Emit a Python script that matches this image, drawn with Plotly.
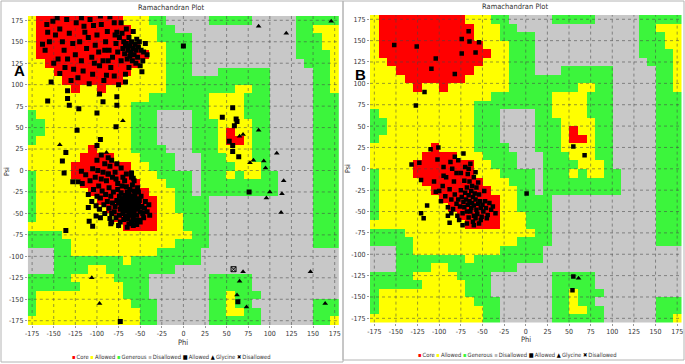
import plotly.graph_objects as go

W, H = 685, 364

# ---------------- data ----------------
phi_centers = list(range(-175, 180, 10))
psi_centers = list(range(175, -180, -10))
axis_ticks = list(range(-175, 180, 25))

# region map (rows psi 180 -> -180, cols phi -180 -> 180); R core, Y allowed, G generous, D disallowed
region_rows = [
    "YRRRRRRRRRRYYYGGDDDDDGGGGGDDDDDGGGGG",
    "YRRRRRRRRRRRYYYGGDDDDDDDDDDDDDDGGYYY",
    "YRRRRRRRRRRRYYYGGGGDDDDDDDDDDDDGGGYY",
    "YRRRRRRRRRRRRYYYGGGDDDDDDDDDDDDGGGYY",
    "YRRRRRRRRRRRRRYYGGGDDDDDDDDDDDDGGGGY",
    "YYRRRRRRRRRRRYYYGGGDDDDDDDDDDDDDGGGY",
    "YYYRRRRRRRRRYYYYGGGDDDGGGGGGDDDDDGGY",
    "YYYYRRRRRRRYYYYYGGGGGGGGGGGGDDDDDGGY",
    "YYYYYRYYRYYYYYYYGGGGGGGGYYGGDDDDDGGY",
    "YYYYYYYYYYYYYYGGGGGGGYYYYGGGDDDDDGGG",
    "YYYYYYYYYYYYGGGGGGGGGYYYYGGGDDDDDGGG",
    "GYYYYYYYYYYYGGGDDDDGGYYYYGGGDDDDDGGG",
    "GGYYYYYYYYYYGGGDDDDGGGYYYYGGDDDDDGGG",
    "GGYYYYYYYYYYGGGDDDDGGGYRYYGGDDDDDGGG",
    "GYYYYYYYYYYYGGGDDDDGGGYRRYGGDDDDDGGG",
    "YYYYYYYRYYYYGGGGDDDGGGYYYYGGDDDDDGGG",
    "YYYYYYRRRRYYYGGGGDDDGGGYYYGGDDDDDGGG",
    "YYYYYRRRRRRRYYGGGDDDGGGGYYYGDDDDDGGG",
    "GYYYYRRRRRRRYYYGGGGDGGGYGYYGGDDDDGGG",
    "GYYYYYRRRRRRRYYYGGGDGGGGGGGGGDDDDGGG",
    "GYYYYYYRRRRRRRYYYGGDGGGGGGGGGDDDDGGG",
    "GYYYYYYYRRRRRRRYYGGGGDDDDDDDDDDDDGGG",
    "GYYYYYYYYRRRRRRYYGGGGDDDDDDDDDDDDGGG",
    "GYYYYYYYYYRRRRRYYYGGGDDDDDDDDDDDDGGG",
    "YYYYYYYYYYYRRRRYYYGGGDDDDDDDDDDDDGGG",
    "GGGGYYYYYYYYYYYYYYYGGDDDDDDDDDDDDGGG",
    "GGGGGYYYYYYYYYYYYGGGGDDDDDDDDDDDDGGG",
    "DDDGGYYYYYYYYYYGGGGGDDDDDDDDDDDDDDDD",
    "DDDGGGGGGGGYGGGGGGGGDDDDDDDDDDDDDDDD",
    "DDDGGGGYYGGGGGGGGDDDDDDDDDDDDDDDDDDD",
    "GGGGGYYYYYGGGGDDDDDDDGGGGGDDDDDDDDDD",
    "GGGGGGYYYYYGGGDDDDDDDGGGGGDDDDDDDDDD",
    "GYYYYYYYYYYGGGDDDDDDDGGYGGGDDDDDDDDD",
    "GYYYYYYYYYYYGGGDDDDDDGGYGGDDDDDDDGGG",
    "GYYYYYYYYYYYYGGDDDDDDGGYYGGDDDDDDGGG",
    "YYYYYYYYYYYYYGGDDDDDDGGGGGGDDDDDDGGY",
]
region_code = {"D": 0, "G": 1, "Y": 2, "R": 3}

# panel A residues (phi, psi)
a_beta = [
    (-163,147),(-157,161),(-151,174),(-143,165),(-135,176),(-124,172),(-114,161),(-104,169),(-85,179),(-77,161),
    (-67,145),(-54,153),(-46,138),(-50,122),(-62,133),(-97,122),(-89,111),(-116,116),(-143,113),(-153,103),
    (-130,105),(-109,101),(-160,140),(-155,150),(-148,158),(-140,150),(-138,140),(-132,160),(-128,148),(-125,135),
    (-120,150),(-118,128),(-112,142),(-110,155),(-106,132),(-102,146),(-100,158),(-98,138),(-95,170),(-93,128),
    (-90,150),(-88,162),(-86,140),(-84,120),(-82,132),(-80,172),(-78,148),(-76,138),(-74,155),(-72,128),
    (-70,142),(-69,150),(-68,136),(-66,148),(-65,130),(-64,140),(-63,155),(-62,145),(-61,138),(-60,150),
    (-59,128),(-58,142),(-57,135),(-56,147),(-55,140),(-53,132),(-52,144),(-51,150),(-49,140),(-47,128),
    (-145,130),(-150,125),(-137,120),(-127,118),(-122,108),(-105,112),(-92,105),(-80,110),(-75,100),(-158,170),
    (-146,178),(-118,178),(-108,176),(-96,180),(-72,172),(-66,165),(-58,162),(-44,148),(-42,135),(-48,115),
    (-134,130),(-115,168),(-103,125),(-91,140),(-87,128),(-79,158),(-71,160),(-63,120),(-55,125),(-67,112),
]
a_bridge = [
    (-134,93),(-134,84),(-132,76),(-121,72),(-157,81),(-100,67),(-78,51),(-123,47),(-96,36),(-100,29),
    (-136,21),(-140,11),(-138,-3),(-97,89),(-93,80),(-77,86),(-77,76),(-67,103),
]
a_alpha = [
    (-64,-40),(-62,-42),(-66,-38),(-60,-45),(-68,-35),(-58,-40),(-63,-36),(-65,-44),(-61,-39),(-67,-41),
    (-70,-38),(-59,-34),(-57,-47),(-69,-45),(-72,-40),(-56,-42),(-62,-48),(-64,-32),(-71,-33),(-55,-37),
    (-66,-47),(-60,-30),(-73,-45),(-58,-50),(-68,-29),(-75,-38),(-53,-45),(-63,-27),(-70,-50),(-77,-35),
    (-54,-33),(-61,-52),(-74,-30),(-65,-25),(-79,-42),(-52,-40),(-67,-53),(-72,-26),(-56,-28),(-80,-48),
    (-58,-55),(-76,-22),(-62,-22),(-82,-38),(-50,-48),(-69,-57),(-84,-30),(-60,-60),(-74,-52),(-51,-35),
    (-86,-44),(-57,-24),(-78,-55),(-66,-19),(-88,-36),(-48,-42),(-71,-18),(-64,-56),(-81,-25),(-54,-52),
    (-90,-28),(-47,-50),(-83,-50),(-59,-17),(-76,-15),(-49,-30),(-92,-40),(-68,-12),(-86,-20),(-55,-58),
    (-94,-24),(-85,-56),(-45,-44),(-78,-10),(-63,-62),(-96,-32),(-73,-60),(-52,-25),(-89,-12),(-44,-36),
    (-98,-18),(-70,-8),(-82,-8),(-91,-50),(-58,-64),(-100,-30),(-46,-55),(-75,-64),(-87,-4),(-95,-10),
    (-104,-22),(-60,-8),(-53,-20),(-97,-45),(-42,-48),(-79,-2),(-84,-62),(-66,-4),(-102,-8),(-50,-60),
    (-106,-36),(-93,-2),(-72,3),(-85,5),(-40,-40),(-108,-12),(-96,-55),(-57,-12),(-65,-66),(-39,-52),
    (-110,-28),(-77,8),(-91,8),(-99,0),(-83,12),(-105,2),(-113,-5),(-87,15),(-100,12),(-95,18),
    (-136,-70),(-110,-43),(-101,-41),(-101,-53),(-109,-59),(-105,-65),(-83,-60),(-54,-63),(-51,-58),(-117,-15),
    (-128,-13),(-122,-13),(-60,-3),(-58,-9),(-87,-4),(-118,-1),
    (-65,-35),(-61,-44),(-59,-38),(-67,-32),(-70,-44),(-56,-36),(-63,-50),(-73,-36),(-57,-30),(-68,-46),
]
a_other_sq = [
    (57,73),(45,62),(61,60),(62,57),(59,52),(53,34),(57,29),(57,22),(64,16),
    (0,145),(76,-25),(63,-153),(-73,-176),
]
a_glycine = [
    (65,40),(69,42),(87,47),(81,12),(77,9),(93,11),(95,3),(108,20),
    (87,168),(119,160),(171,174),(-143,30),(-70,58),(-89,21),
    (100,-25),(96,-32),(114,-27),(113,-49),(116,-12),(69,-118),(65,-129),(62,-145),(73,-159),
    (147,-118),(164,-155),(-106,-125),(-97,-155),
]
a_disallowed = [(58,-115)]

# panel B residues (phi, psi)
b_beta = [
    (-152,145),(-126,143),(-104,129),(-109,117),(-82,111),(-74,135),(-74,152),(-66,161),(-65,149),(-54,148),
    (-58,136),(-117,90),(-127,74),
]
b_alpha = [
    (-62,-40),(-60,-43),(-65,-38),(-58,-36),(-63,-46),(-67,-42),(-57,-48),(-61,-33),(-69,-36),(-55,-41),
    (-64,-50),(-59,-29),(-71,-45),(-53,-38),(-66,-31),(-56,-53),(-72,-39),(-60,-55),(-68,-50),(-52,-46),
    (-74,-33),(-63,-26),(-50,-42),(-70,-28),(-58,-58),(-76,-44),(-54,-30),(-66,-57),(-78,-36),(-49,-50),
    (-62,-20),(-73,-52),(-57,-22),(-80,-41),(-47,-38),(-68,-22),(-61,-62),(-82,-30),(-51,-56),(-75,-25),
    (-84,-47),(-46,-46),(-65,-15),(-79,-55),(-55,-16),(-86,-36),(-44,-54),(-71,-14),(-88,-24),(-60,-10),
    (-77,-60),(-48,-26),(-90,-45),(-67,-6),(-83,-15),(-42,-40),(-93,-32),(-75,-5),(-58,-4),(-96,-20),
    (-86,-52),(-52,-60),(-80,-5),(-98,-38),(-40,-48),(-92,-10),(-70,2),(-64,6),(-100,-26),(-85,0),
    (-54,-64),(-45,-58),(-78,10),(-90,-55),(-95,2),(-106,-15),(-60,-66),(-82,14),(-38,-44),(-68,-64),
    (-110,23),(-101,25),(-132,5),(-123,7),(-102,11),(-87,8),(-72,18),(-66,0),(-121,-13),(-114,-43),
    (-104,-27),(-121,-52),(-118,-58),(-88,-63),(-73,-66),(-35,-52),(-95,-8),
]
b_other_sq = [(55,26),(68,16),(1,-29),(55,-126),(54,-142)]
b_glycine = [(61,-128)]

legend_labels = ["Core", "Allowed", "Generous", "Disallowed", "Allowed", "Glycine", "Disallowed"]
legend_symbols = ["\u25aa", "\u25aa", "\u25aa", "\u25aa", "\u25a0", "\u25b2", "\u2716"]

# ---------------- styling ----------------
COL = {"R": "#FF0000", "Y": "#FFFF00", "G": "#3CF53C", "D": "#C8C8C8"}
legend_colors = [COL["R"], COL["Y"], COL["G"], "#BBBBBB", "#000000", "#000000", "#000000"]
FONT = "Liberation Sans Narrow, DejaVu Sans Condensed, Arial Narrow, sans-serif"
TXT = "#333333"

panels = {
    "A": dict(x0=27.8, x1=339.0, y0=16.0, y1=325.0, xs="x", ys="y", msize=5,
              title=(171, 7.5), phi=(183, 342), psi=(7, 172), leg=(171, 357.5), tag=(19, 70)),
    "B": dict(x0=370.0, x1=681.5, y0=15.0, y1=322.6, xs="x2", ys="y2", msize=4.5,
              title=(515, 6.5), phi=(526, 339), psi=(348, 168), leg=(517, 355), tag=(361, 75)),
}

def fx(px):
    return px / W

def fy(py):
    return 1 - py / H

z = [[region_code[ch] for ch in row] for row in region_rows]
cscale = [[0, COL["D"]], [0.1666, COL["D"]], [0.1667, COL["G"]], [0.4999, COL["G"]],
          [0.5, COL["Y"]], [0.8333, COL["Y"]], [0.8334, COL["R"]], [1, COL["R"]]]

fig = go.Figure()

def add_panel(p, general, glycine, disallowed):
    fig.add_trace(go.Heatmap(x=phi_centers, y=psi_centers, z=z, zmin=0, zmax=3,
                             colorscale=cscale, showscale=False, hoverinfo="skip",
                             xaxis=p["xs"], yaxis=p["ys"]))
    gx, gy = [], []
    for t in axis_ticks:
        gx += [t, t, None]; gy += [-180, 180, None]
        gx += [-180, 180, None]; gy += [t, t, None]
    fig.add_trace(go.Scatter(x=gx, y=gy, mode="lines", hoverinfo="skip", showlegend=False,
                             line=dict(color="rgba(70,70,70,0.55)", width=1, dash="dot"),
                             xaxis=p["xs"], yaxis=p["ys"]))
    if general:
        fig.add_trace(go.Scatter(x=[a for a, b in general], y=[b for a, b in general], mode="markers",
                                 marker=dict(symbol="square", size=p["msize"], color="black"),
                                 showlegend=False, xaxis=p["xs"], yaxis=p["ys"]))
    if glycine:
        fig.add_trace(go.Scatter(x=[a for a, b in glycine], y=[b for a, b in glycine], mode="markers",
                                 marker=dict(symbol="triangle-up", size=5, color="black"),
                                 showlegend=False, xaxis=p["xs"], yaxis=p["ys"]))
    if disallowed:
        fig.add_trace(go.Scatter(x=[a for a, b in disallowed], y=[b for a, b in disallowed], mode="markers",
                                 marker=dict(symbol="square-x-open", size=5, color="black",
                                             line=dict(width=1, color="black")),
                                 showlegend=False, xaxis=p["xs"], yaxis=p["ys"]))

add_panel(panels["A"], a_beta + a_bridge + a_alpha + a_other_sq, a_glycine, a_disallowed)
add_panel(panels["B"], b_beta + b_alpha + b_other_sq, b_glycine, [])

def axis(p, anchor, horizontal):
    d = dict(range=[-180, 180], tickvals=axis_ticks, ticktext=[str(t) for t in axis_ticks],
             showgrid=False, zeroline=False, showline=False, ticks="outside", ticklen=2,
             tickcolor="#999999", tickfont=dict(family=FONT, size=7, color=TXT),
             anchor=anchor, fixedrange=True, automargin=False)
    if horizontal:
        d["domain"] = [fx(p["x0"]), fx(p["x1"])]
    else:
        d["domain"] = [fy(p["y1"]), fy(p["y0"])]
    return d

def note(text, px, py, size, family=FONT, color=TXT, angle=0):
    return dict(text=text, x=fx(px), y=fy(py), xref="paper", yref="paper", showarrow=False,
                xanchor="center", yanchor="middle", textangle=angle,
                font=dict(family=family, size=size, color=color))

annotations = []
shapes = []
legend_text = "\u00a0".join(
    f'<span style="color:{c}">{s}</span>\u2009{l}'
    for s, c, l in zip(legend_symbols, legend_colors, legend_labels))
for name, p in panels.items():
    annotations.append(note("Ramachandran Plot", *p["title"], 7.5))
    annotations.append(note("Phi", *p["phi"], 7.5))
    annotations.append(note("Psi", *p["psi"], 7, angle=-90))
    annotations.append(note(legend_text, *p["leg"], 5.8))
    annotations.append(note("<b>%s</b>" % name, *p["tag"], 15,
                            family="Liberation Sans, Arial, sans-serif", color="black"))

shapes.append(dict(type="rect", xref="paper", yref="paper", x0=fx(1), x1=fx(343), y0=fy(362), y1=fy(1),
                   line=dict(color="#B4B4B4", width=1), fillcolor="rgba(0,0,0,0)", layer="below"))
shapes.append(dict(type="rect", xref="paper", yref="paper", x0=fx(343), x1=fx(684), y0=fy(360), y1=fy(1),
                   line=dict(color="#B4B4B4", width=1), fillcolor="rgba(0,0,0,0)", layer="below"))

fig.update_layout(
    width=W, height=H, margin=dict(l=0, r=0, t=0, b=0, autoexpand=False),
    paper_bgcolor="white", plot_bgcolor="white", showlegend=False,
    xaxis=axis(panels["A"], "y", True), yaxis=axis(panels["A"], "x", False),
    xaxis2=axis(panels["B"], "y2", True), yaxis2=axis(panels["B"], "x2", False),
    annotations=annotations, shapes=shapes,
)

fig.write_html("out.html", config={"displayModeBar": False, "staticPlot": True},
               post_script="document.body.style.margin='0';document.body.style.padding='0';")
